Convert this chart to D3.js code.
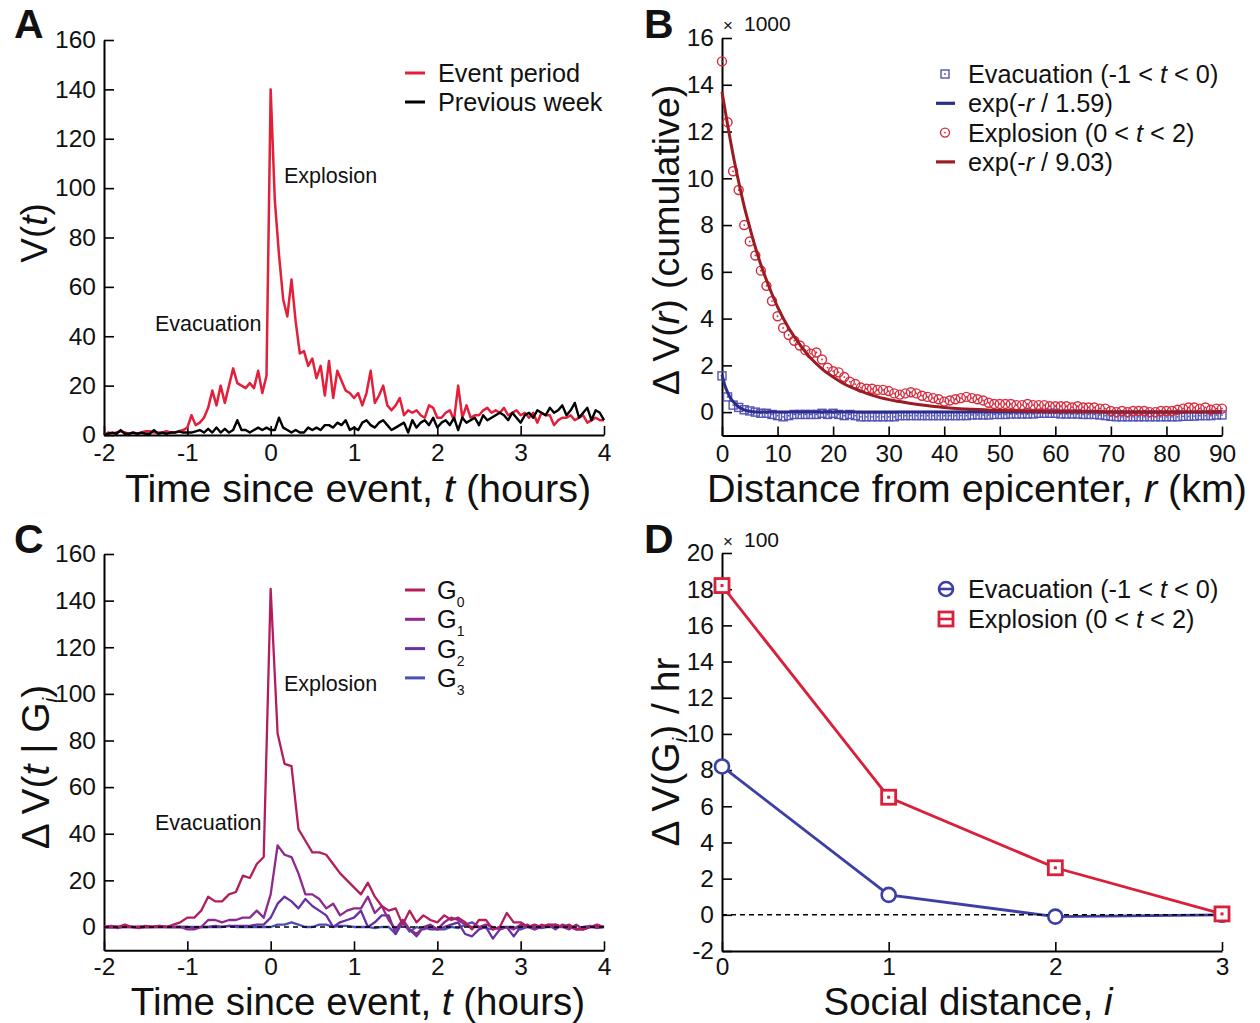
<!DOCTYPE html>
<html>
<head>
<meta charset="utf-8">
<script src="https://cdn.jsdelivr.net/npm/d3@7"></script>
<style>
  body { margin: 0; background: #fff; }
  text { font-family: "Liberation Sans", Helvetica, Arial, sans-serif; fill: #111; }
  .axis path.domain { stroke: #000; stroke-width: 2; }
  .axis line { stroke: #000; stroke-width: 1.6; }
  .axis text { font-size: 24.5px; fill: #111; font-family: "Liberation Sans", Helvetica, Arial, sans-serif; }
</style>
</head>
<body>
<script>
// ---------- Panel A : call volume, 3-minute bins from t = -2 to 4 h ----------
var tStepA = 0.05;
var eventPeriod = [
  0,1,0.5,1,1.5,1,0.5,1,0.5,1,1.5,1.5,1,1,1,1.5,1,1,1.5,2,
  3,8,4,5,7,11,18,12,20,13,20,27,21,20,19,21,19,26,17,24,
  140,95,73,55,48,63,46,33,34,28,31,23,28,16,30,15,26,22,18,17,
  15,17,12,17,26,13,16,20,12,10,12,15,8,10,9,10,8,7,12,11,
  7,7,9,10,6,20,7,12,7,8,8,10,11,9,10,9,11,8,9,10,
  8,9,7,9,5,9,8,8,4,6,7,7,8,6,7,8,5,6,7,6,6
];
var previousWeek = [
  0,0.5,1,0.5,2,0.5,0.5,1,0.5,1,0.5,0.5,2,0.5,1,0.5,1,1,1.5,1,
  1,1,1.5,2,1,2.5,1,3,1,2.5,1,2,6,2,2,1,2,3,2,3,
  2,2,7,3,2,1,2,1,1,3,2,3,2,4,4,3,5,4,6,2,
  3,2,5,6,4,3,5,6,4,2,3,4,5,1,6,3,5,6,4,7,
  3,5,6,4,7,2,7,5,6,7,4,8,6,7,8,9,8,6,9,7,
  5,8,9,7,10,9,8,11,9,10,12,8,10,13,7,9,11,6,10,9,6
];
var timeTicks = [-2, -1, 0, 1, 2, 3, 4];
var volumeTicks = [0, 20, 40, 60, 80, 100, 120, 140, 160];

// ---------- Panel B : cumulative change vs distance (x 1000), r = 0..90 km ----------
var explosionCum = [
  15.0,12.4,10.3,9.5,8.0,7.3,6.7,6.05,5.4,4.75,
  4.1,3.6,3.3,3.05,2.85,2.65,2.5,2.55,2.25,1.9,
  1.75,1.7,1.5,1.3,1.2,1.05,1.0,1.0,0.95,0.95,
  0.9,0.8,0.75,0.8,0.85,0.8,0.7,0.65,0.6,0.55,
  0.45,0.5,0.55,0.6,0.65,0.6,0.55,0.5,0.4,0.35,
  0.35,0.35,0.35,0.3,0.3,0.35,0.3,0.3,0.3,0.25,
  0.25,0.25,0.25,0.2,0.25,0.2,0.2,0.2,0.15,0.15,
  0.05,0.0,0.05,0.0,0.05,0.05,0.05,0.0,0.0,0.05,
  0.05,0.05,0.1,0.15,0.2,0.2,0.15,0.2,0.1,0.15,0.15
];
var evacuationCum = [
  1.55,0.65,0.3,0.2,0.1,0.05,0.0,-0.05,-0.05,-0.1,
  -0.15,-0.2,-0.15,-0.1,-0.1,-0.1,-0.1,-0.1,-0.05,-0.1,
  -0.05,-0.1,-0.15,-0.1,-0.15,-0.2,-0.2,-0.2,-0.2,-0.2,
  -0.2,-0.2,-0.15,-0.15,-0.15,-0.15,-0.15,-0.15,-0.15,-0.15,
  -0.15,-0.15,-0.15,-0.15,-0.15,-0.12,-0.12,-0.12,-0.12,-0.1,
  -0.1,-0.1,-0.08,-0.08,-0.08,-0.08,-0.08,-0.05,-0.05,-0.05,
  -0.05,-0.08,-0.08,-0.08,-0.08,-0.1,-0.1,-0.1,-0.12,-0.15,
  -0.18,-0.2,-0.2,-0.2,-0.2,-0.2,-0.2,-0.2,-0.2,-0.2,
  -0.2,-0.2,-0.2,-0.18,-0.18,-0.17,-0.15,-0.15,-0.15,-0.12,-0.12
];
var fitExplR = [0,1,2,3,4,5,6,7,8,9,10,12,14,16,18,20,22,25,28,32,36,40,45,50,55,60,70,80,90];
var fitExplV = [13.7,12.3,11.0,9.85,8.8,7.9,7.05,6.3,5.65,5.05,4.5,3.6,2.9,2.3,1.85,1.5,1.2,0.9,0.65,0.45,0.3,0.2,0.12,0.07,0.04,0.02,0.01,0,0];
var fitEvacR = [0,0.5,1,1.5,2,3,4,5,6,8,10,20,90];
var fitEvacV = [1.6,1.15,0.85,0.6,0.45,0.22,0.1,0.04,0.01,0,0,0,0];
var distTicks = [0, 10, 20, 30, 40, 50, 60, 70, 80, 90];
var cumTicks = [0, 2, 4, 6, 8, 10, 12, 14, 16];

// ---------- Panel C : change in volume by social group, 5-minute bins ----------
var tStepC = 1 / 12;
var g0 = [
  0,0.5,0,1,0,0,0.5,0,0.5,0,1,2,
  4,4,7,13,11,11,14,15,22,21,27,30,
  145,83,70,69,42,37,32,32,31,27,23,20,
  17,14,19,13,9,7,8,1,7,2,5,3,
  2,5,3,4,2,-1,3,3,-1,0,6,2,
  2,0,1,0,1,1,0,1,-1,-1,0,1,0
];
var g1 = [
  0,0,-0.5,0.5,0,-0.5,0,0,0.5,0,0,0,
  -1,-1,0,3,3,2,3,3,4,4,7,4,
  14,35,31,30,23,14,14,12,8,10,5,7,
  8,8,13,6,9,3,-1,3,-1,-3,0,1,
  -1,2,4,3,1,0,0,1,0,-1,0,-1,
  1,0,-1,1,0,1,0,-1,1,-1,0,0,0
];
var g2 = [
  0,0,0,0,0,0,0,0,0,0,0,0,
  0,-0.5,0,0,0.5,0,0.5,0.5,0.5,0.5,1,1,
  4,10,13,11,8,12,9,7,5,0,2,3,
  4,7,0,2,5,5,-3,3,-1,-4,0,-1,
  -1,0,1,2,-3,-4,-1,0,-5,-1,0,-4,
  0,1,-1,0,1,-1,1,0,-1,-1,0,0,0
];
var g3 = [
  0,0,0,0,0,0,0,0,0,0,0,0,
  0,0,0,0,0,0,0.5,0,0,0,0,0,
  0,1,1,2,1,0,0,1,1,0,0.5,0.5,
  0,0,0,-0.5,0,0,-3,2,-2,0,-1,0,
  -1,-1,0,-0.5,1,2,0,-0.5,-1,0,0,0,
  -1,0,0,-0.5,0,0,0,0.5,-1,0,0.5,-0.5,0
];
var groupNames = ["0", "1", "2", "3"];
var groupColors = ["#b41d5c", "#8d2a8d", "#6731a3", "#4a4fb5"];

// ---------- Panel D : change per hour vs social distance (x 100) ----------
var socialDist = [0, 1, 2, 3];
var evacByDist = [8.2, 1.1, -0.1, 0.0];
var explByDist = [18.2, 6.5, 2.6, 0.05];
var rateTicks = [-2, 0, 2, 4, 6, 8, 10, 12, 14, 16, 18, 20];

var red = "#e3203a";

var svg = d3.select("body").append("svg")
  .attr("width", 1260)
  .attr("height", 1023);

// axes with inward ticks, like the original figure
function drawAxes(x, y, xTicks, yTicks, pad) {
  svg.append("g")
    .attr("class", "axis")
    .attr("transform", `translate(0, ${y.range()[0]})`)
    .call(d3.axisBottom(x).tickValues(xTicks).tickSize(-9).tickSizeOuter(0).tickPadding(pad).tickFormat(d => d));
  svg.append("g")
    .attr("class", "axis")
    .attr("transform", `translate(${x.range()[0]}, 0)`)
    .call(d3.axisLeft(y).tickValues(yTicks).tickSize(-10).tickSizeOuter(0).tickPadding(8).tickFormat(d => d));
}

// text made of plain / italic / subscript pieces
function rich(sel, parts, subSize, subDy) {
  var shifted = false;
  parts.forEach(function (p) {
    var s = typeof p === "string" ? p : p[0];
    var kind = typeof p === "string" ? "" : p[1];
    var ts = sel.append("tspan").text(s);
    if (kind.indexOf("i") >= 0) ts.style("font-style", "italic");
    if (kind.indexOf("sub") >= 0) {
      ts.attr("dy", subDy).style("font-size", subSize + "px");
      shifted = true;
    } else if (shifted) {
      ts.attr("dy", -subDy);
      shifted = false;
    }
  });
  return sel;
}

function label(x, y, size, parts, opts) {
  opts = opts || {};
  var t = svg.append("text")
    .attr("x", x)
    .attr("y", y)
    .style("font-size", size + "px")
    .attr("text-anchor", opts.anchor || "start");
  if (opts.bold) t.style("font-weight", "bold");
  if (opts.rotate) t.attr("x", 0).attr("y", 0).attr("transform", `translate(${x}, ${y}) rotate(-90)`);
  rich(t, parts, opts.subSize || 14, opts.subDy || 8);
  return t;
}

// ================= Panel A =================
var xA = d3.scaleLinear().domain([-2, 4]).range([104, 604]);
var yA = d3.scaleLinear().domain([0, 160]).range([435, 40]);
drawAxes(xA, yA, timeTicks, volumeTicks, 9);

var lineA = d3.line()
  .x((d, i) => xA(-2 + i * tStepA))
  .y(d => yA(d));

svg.append("path").datum(eventPeriod)
  .attr("d", lineA).attr("fill", "none").attr("stroke", red).attr("stroke-width", 2.5)
  .attr("stroke-linejoin", "round");
svg.append("path").datum(previousWeek)
  .attr("d", lineA).attr("fill", "none").attr("stroke", "#000").attr("stroke-width", 2.4)
  .attr("stroke-linejoin", "round");

[["Event period", red], ["Previous week", "#000"]].forEach(function (d, i) {
  var yy = 73 + i * 29;
  svg.append("line").attr("x1", 405).attr("x2", 425).attr("y1", yy).attr("y2", yy)
    .attr("stroke", d[1]).attr("stroke-width", 3);
  label(438, yy + 9, 25.3, [d[0]]);
});
label(284, 183, 21.5, ["Explosion"]);
label(155, 331, 21.5, ["Evacuation"]);

label(14, 38, 41, ["A"], { bold: true });
label(47, 233, 37, ["V(", ["t", "i"], ")"], { rotate: true, anchor: "middle" });
label(358, 502, 39.5, ["Time since event, ", ["t", "i"], " (hours)"], { anchor: "middle" });

// ================= Panel B =================
var xB = d3.scaleLinear().domain([0, 90]).range([722, 1222]);
var yB = d3.scaleLinear().domain([-1, 16]).range([435.5, 38]);
drawAxes(xB, yB, distTicks, cumTicks, 9);

var squareColor = "#5454b6", circleColor = "#d62c3f";
var fitBlue = "#2b2d8a", fitRed = "#9b1c22";

svg.append("g").selectAll("rect")
  .data(evacuationCum).enter().append("rect")
  .attr("x", (d, i) => xB(i) - 4).attr("y", d => yB(d) - 4)
  .attr("width", 8).attr("height", 8)
  .attr("fill", "none").attr("stroke", squareColor).attr("stroke-width", 1.4);
svg.append("g").selectAll("circle")
  .data(evacuationCum).enter().append("circle")
  .attr("cx", (d, i) => xB(i)).attr("cy", d => yB(d)).attr("r", 0.9).attr("fill", squareColor);

svg.append("g").selectAll("circle")
  .data(explosionCum).enter().append("circle")
  .attr("cx", (d, i) => xB(i)).attr("cy", d => yB(d)).attr("r", 4.5)
  .attr("fill", "none").attr("stroke", circleColor).attr("stroke-width", 1.4);
svg.append("g").selectAll("circle")
  .data(explosionCum).enter().append("circle")
  .attr("cx", (d, i) => xB(i)).attr("cy", d => yB(d)).attr("r", 0.9).attr("fill", circleColor);

var fitLine = d3.line().curve(d3.curveMonotoneX)
  .x(d => xB(d[0])).y(d => yB(d[1]));
svg.append("path").datum(fitEvacR.map((r, i) => [r, fitEvacV[i]]))
  .attr("d", fitLine).attr("fill", "none").attr("stroke", fitBlue).attr("stroke-width", 3);
svg.append("path").datum(fitExplR.map((r, i) => [r, fitExplV[i]]))
  .attr("d", fitLine).attr("fill", "none").attr("stroke", fitRed).attr("stroke-width", 3);

// legend B
var lgB = [
  { kind: "square", color: squareColor, parts: ["Evacuation (-1 < ", ["t", "i"], " < 0)"] },
  { kind: "line", color: fitBlue, parts: ["exp(-", ["r", "i"], " / 1.59)"] },
  { kind: "circle", color: circleColor, parts: ["Explosion (0 < ", ["t", "i"], " < 2)"] },
  { kind: "line", color: fitRed, parts: ["exp(-", ["r", "i"], " / 9.03)"] }
];
lgB.forEach(function (d, i) {
  var yy = 74 + i * 29.3;
  if (d.kind === "square") {
    svg.append("rect").attr("x", 941).attr("y", yy - 4).attr("width", 8).attr("height", 8)
      .attr("fill", "none").attr("stroke", d.color).attr("stroke-width", 1.4);
    svg.append("circle").attr("cx", 945).attr("cy", yy).attr("r", 0.9).attr("fill", d.color);
  } else if (d.kind === "circle") {
    svg.append("circle").attr("cx", 945).attr("cy", yy).attr("r", 4.5)
      .attr("fill", "none").attr("stroke", d.color).attr("stroke-width", 1.4);
    svg.append("circle").attr("cx", 945).attr("cy", yy).attr("r", 0.9).attr("fill", d.color);
  } else {
    svg.append("line").attr("x1", 936).attr("x2", 955).attr("y1", yy).attr("y2", yy)
      .attr("stroke", d.color).attr("stroke-width", 3.2);
  }
  label(968, yy + 9, 25.3, d.parts);
});

label(644, 38, 41, ["B"], { bold: true });
label(723, 31, 17, ["×"]);
label(744, 31, 21, ["1000"]);
label(679, 240, 37.5, ["Δ V(", ["r", "i"], ") (cumulative)"], { rotate: true, anchor: "middle" });
label(977, 502, 39.5, ["Distance from epicenter, ", ["r", "i"], " (km)"], { anchor: "middle" });

// ================= Panel C =================
var xC = d3.scaleLinear().domain([-2, 4]).range([104, 604]);
var yC = d3.scaleLinear().domain([-10, 160]).range([950.3, 554]);
drawAxes(xC, yC, timeTicks, volumeTicks, 7);

var lineC = d3.line()
  .x((d, i) => xC(-2 + i * tStepC))
  .y(d => yC(d));
[g3, g2, g1, g0].forEach(function (series, k) {
  svg.append("path").datum(series)
    .attr("d", lineC).attr("fill", "none")
    .attr("stroke", groupColors[3 - k]).attr("stroke-width", 2.3).attr("stroke-linejoin", "round");
});
svg.append("line")
  .attr("x1", xC(-2)).attr("x2", xC(4)).attr("y1", yC(0)).attr("y2", yC(0))
  .attr("stroke", "#000").attr("stroke-width", 1.6).attr("stroke-dasharray", "5,4");

groupNames.forEach(function (n, i) {
  var yy = 590 + i * 29.3;
  svg.append("line").attr("x1", 405).attr("x2", 425).attr("y1", yy).attr("y2", yy)
    .attr("stroke", groupColors[i]).attr("stroke-width", 3);
  label(437, yy + 9, 25.3, ["G", [n, "sub"]], { subSize: 14, subDy: 8 });
});
label(284, 691, 21.5, ["Explosion"]);
label(155, 830, 21.5, ["Evacuation"]);

label(14, 553, 41, ["C"], { bold: true });
label(49, 767, 39, ["Δ V(", ["t", "i"], " | G", ["i", "isub"], ")"], { rotate: true, anchor: "middle", subSize: 21, subDy: 8 });
label(358, 1014.5, 38.5, ["Time since event, ", ["t", "i"], " (hours)"], { anchor: "middle" });

// ================= Panel D =================
var xD = d3.scaleLinear().domain([0, 3]).range([722, 1222]);
var yD = d3.scaleLinear().domain([-2, 20]).range([951, 553]);
drawAxes(xD, yD, socialDist, rateTicks, 6.5);

var lineD = d3.line().x((d, i) => xD(socialDist[i])).y(d => yD(d));
var dBlue = "#3d3fa5", dRed = "#d91f3a";
svg.append("path").datum(evacByDist).attr("d", lineD)
  .attr("fill", "none").attr("stroke", dBlue).attr("stroke-width", 2.8);
svg.append("path").datum(explByDist).attr("d", lineD)
  .attr("fill", "none").attr("stroke", dRed).attr("stroke-width", 2.8);

svg.append("line")
  .attr("x1", xD(0)).attr("x2", xD(3)).attr("y1", yD(0)).attr("y2", yD(0))
  .attr("stroke", "#000").attr("stroke-width", 1.6).attr("stroke-dasharray", "5,4");

svg.append("g").selectAll("circle")
  .data(evacByDist).enter().append("circle")
  .attr("cx", (d, i) => xD(socialDist[i])).attr("cy", d => yD(d)).attr("r", 7)
  .attr("fill", "#fff").attr("stroke", dBlue).attr("stroke-width", 2.6);
svg.append("g").selectAll("rect")
  .data(explByDist).enter().append("rect")
  .attr("x", (d, i) => xD(socialDist[i]) - 7).attr("y", d => yD(d) - 7)
  .attr("width", 14).attr("height", 14)
  .attr("fill", "#fff").attr("stroke", dRed).attr("stroke-width", 2.8);
svg.append("g").selectAll("rect")
  .data(explByDist).enter().append("rect")
  .attr("x", (d, i) => xD(socialDist[i]) - 1.5).attr("y", d => yD(d) - 1.5)
  .attr("width", 3).attr("height", 3).attr("fill", dRed);

// legend D
[["circle", dBlue, ["Evacuation (-1 < ", ["t", "i"], " < 0)"]],
 ["square", dRed, ["Explosion (0 < ", ["t", "i"], " < 2)"]]].forEach(function (d, i) {
  var yy = 589 + i * 30;
  if (d[0] === "circle") {
    svg.append("circle").attr("cx", 946).attr("cy", yy).attr("r", 7)
      .attr("fill", "none").attr("stroke", d[1]).attr("stroke-width", 2.6);
  } else {
    svg.append("rect").attr("x", 939).attr("y", yy - 7).attr("width", 14).attr("height", 14)
      .attr("fill", "none").attr("stroke", d[1]).attr("stroke-width", 2.8);
  }
  svg.append("line").attr("x1", 939).attr("x2", 953).attr("y1", yy).attr("y2", yy)
    .attr("stroke", d[1]).attr("stroke-width", 2.6);
  label(968, yy + 9, 25.3, d[2]);
});

label(644, 553, 41, ["D"], { bold: true });
label(723, 547, 17, ["×"]);
label(744, 547, 21, ["100"]);
label(679, 752, 39, ["Δ V(G", ["i", "isub"], ") / hr"], { rotate: true, anchor: "middle", subSize: 21, subDy: 8 });
label(968, 1014.5, 38.5, ["Social distance, ", ["i", "i"]], { anchor: "middle" });
</script>
</body>
</html>
